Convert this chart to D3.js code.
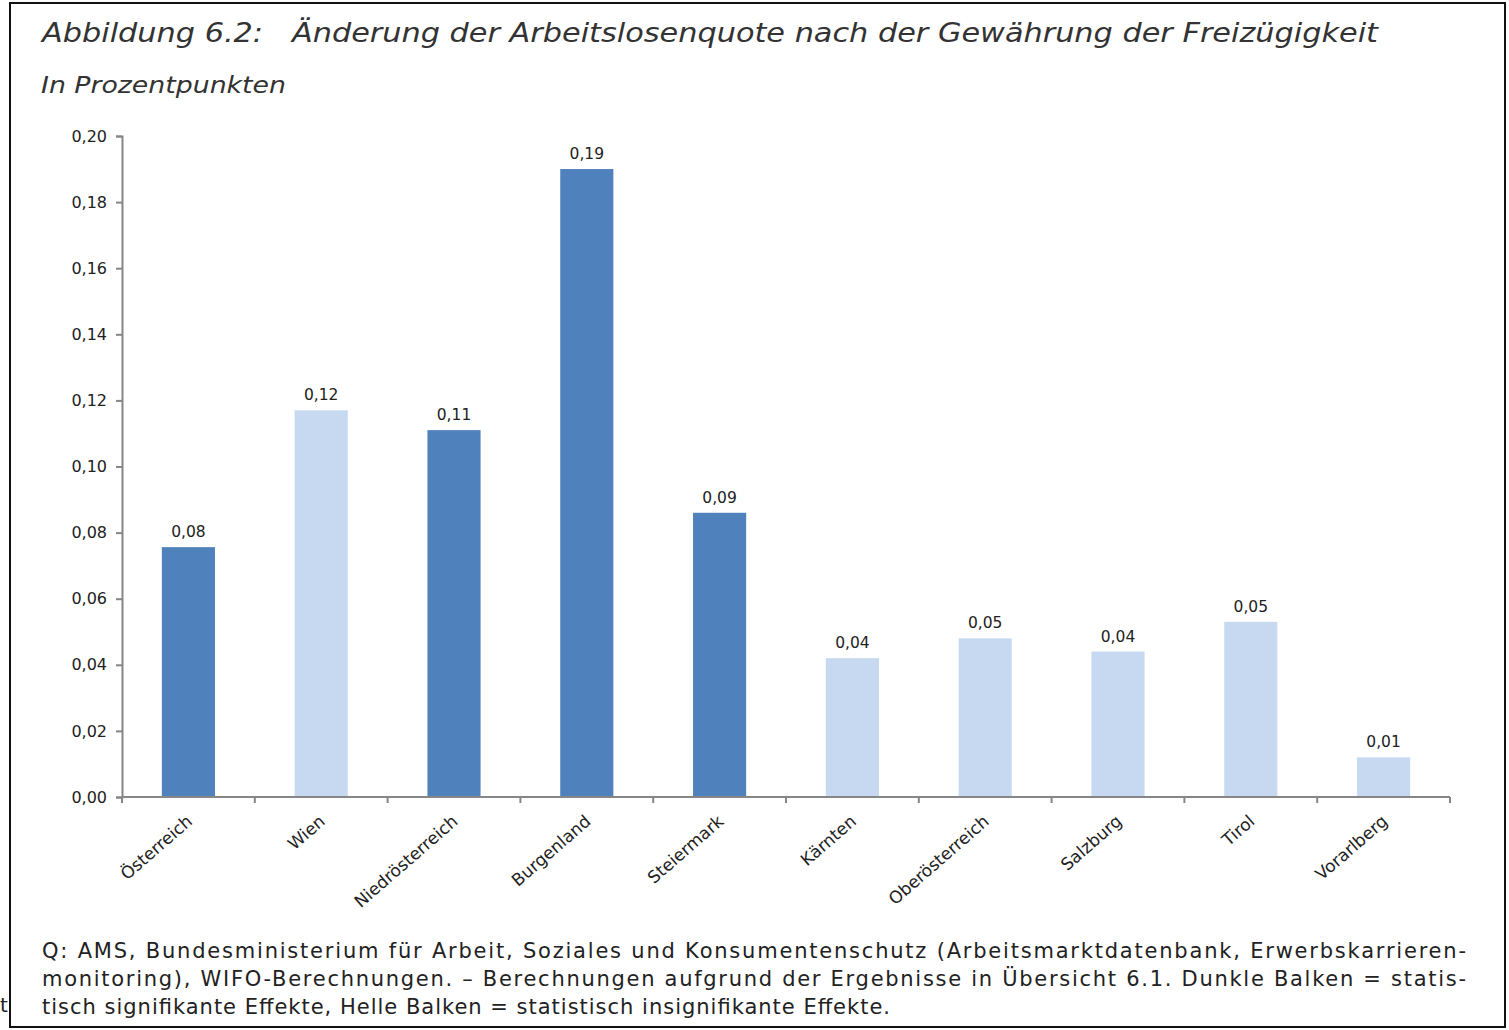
<!DOCTYPE html>
<html>
<head>
<meta charset="utf-8">
<script src="https://cdn.jsdelivr.net/npm/d3@7"></script>
<style>
  body { margin: 0; background: #fff; }
  svg { display: block; }
  text { white-space: pre; }
</style>
</head>
<body>
<div id="chart"></div>
<script>
// Data
const regions = ["Österreich", "Wien", "Niedrösterreich", "Burgenland", "Steiermark",
    "Kärnten", "Oberösterreich", "Salzburg", "Tirol", "Vorarlberg"];
const values = [0.0756, 0.117, 0.111, 0.190, 0.086, 0.042, 0.048, 0.044, 0.053, 0.012];
const significant = [true, false, true, true, true, false, false, false, false, false];
const yTicks = [0, 0.02, 0.04, 0.06, 0.08, 0.10, 0.12, 0.14, 0.16, 0.18, 0.20];
const titleText = "Abbildung 6.2:   Änderung der Arbeitslosenquote nach der Gewährung der Freizügigkeit";
const subtitleText = "In Prozentpunkten";
const footerLines = [
    "Q: AMS, Bundesministerium für Arbeit, Soziales und Konsumentenschutz (Arbeitsmarktdatenbank, Erwerbskarrieren-",
    "monitoring), WIFO-Berechnungen. – Berechnungen aufgrund der Ergebnisse in Übersicht 6.1. Dunkle Balken = statis-",
    "tisch signifikante Effekte, Helle Balken = statistisch insignifikante Effekte."
];

const font = "'DejaVu Sans', sans-serif";
const commaFormat = v => d3.format(".2f")(v).replace(".", ",");

const svg = d3.select("#chart")
    .append("svg")
        .attr("width", 1509)
        .attr("height", 1030)
        .style("font-family", font);

// stray fragment left of the frame
svg.append("text")
    .attr("x", 0)
    .attr("y", 1012)
    .attr("font-size", 20)
    .attr("fill", "#222")
    .text("t");

// frame
svg.append("rect")
    .attr("x", 10)
    .attr("y", 3)
    .attr("width", 1495)
    .attr("height", 1024)
    .attr("fill", "#fff")
    .attr("stroke", "#111")
    .attr("stroke-width", 2);

svg.append("text")
    .attr("x", 42)
    .attr("y", 42)
    .attr("font-size", 26)
    .attr("font-style", "italic")
    .attr("fill", "#333")
    .attr("textLength", 1336)
    .attr("lengthAdjust", "spacingAndGlyphs")
    .text(titleText);

svg.append("text")
    .attr("x", 41)
    .attr("y", 93)
    .attr("font-size", 23)
    .attr("font-style", "italic")
    .attr("fill", "#333")
    .attr("textLength", 245)
    .attr("lengthAdjust", "spacingAndGlyphs")
    .text(subtitleText);

// plot area
const plotLeft = 122, plotRight = 1450, plotTop = 136, plotBottom = 797;

const x = d3.scaleBand()
    .domain(regions)
    .range([plotLeft, plotRight])
    .paddingInner(0.6)
    .paddingOuter(0.3);

const xTicks = d3.scaleBand()
    .domain(regions)
    .range([plotLeft, plotRight]);

const y = d3.scaleLinear()
    .domain([0, 0.2])
    .range([plotBottom, plotTop]);

// bars
svg.append("g")
    .selectAll("rect")
    .data(regions)
    .enter()
    .append("rect")
        .attr("x", d => x(d))
        .attr("y", (d, i) => y(values[i]))
        .attr("width", x.bandwidth())
        .attr("height", (d, i) => y(0) - y(values[i]))
        .attr("fill", (d, i) => significant[i] ? "#4F81BD" : "#C6D9F1");

// value labels
svg.append("g")
    .selectAll("text")
    .data(regions)
    .enter()
    .append("text")
        .attr("x", d => x(d) + x.bandwidth() / 2)
        .attr("y", (d, i) => y(values[i]) - 10)
        .attr("text-anchor", "middle")
        .attr("font-size", 15.5)
        .attr("fill", "#222")
        .text((d, i) => commaFormat(values[i]));

// y axis
const yAxis = svg.append("g")
    .attr("transform", `translate(${plotLeft},0)`)
    .call(d3.axisLeft(y).tickValues(yTicks).tickSize(6).tickFormat(commaFormat));
yAxis.select(".domain").attr("stroke", "#868686").attr("stroke-width", 2);
yAxis.selectAll(".tick line").attr("stroke", "#868686").attr("stroke-width", 2);
yAxis.selectAll(".tick text")
    .attr("x", -15)
    .attr("font-size", 16)
    .attr("font-family", font)
    .attr("fill", "#222");

// x axis line and category ticks
svg.append("line")
    .attr("x1", plotLeft)
    .attr("x2", plotRight)
    .attr("y1", plotBottom)
    .attr("y2", plotBottom)
    .attr("stroke", "#868686")
    .attr("stroke-width", 2);

svg.append("g")
    .selectAll("line")
    .data(regions.concat(["end"]))
    .enter()
    .append("line")
        .attr("x1", (d, i) => i < regions.length ? xTicks(d) : plotRight)
        .attr("x2", (d, i) => i < regions.length ? xTicks(d) : plotRight)
        .attr("y1", plotBottom)
        .attr("y2", plotBottom + 6)
        .attr("stroke", "#868686")
        .attr("stroke-width", 2);

// rotated category labels
svg.append("g")
    .selectAll("text")
    .data(regions)
    .enter()
    .append("text")
        .attr("transform", d => `translate(${xTicks(d) + xTicks.bandwidth() / 2 + 5},${plotBottom + 26}) rotate(-41)`)
        .attr("text-anchor", "end")
        .attr("font-size", 17)
        .attr("fill", "#222")
        .text(d => d);

// footnote, justified to the same width
svg.append("g")
    .selectAll("text")
    .data(footerLines)
    .enter()
    .append("text")
        .attr("x", 42)
        .attr("y", (d, i) => 958 + i * 28)
        .attr("font-size", 21)
        .attr("fill", "#222")
        .attr("textLength", (d, i) => i < 2 ? 1424 : 848)
        .attr("lengthAdjust", "spacing")
        .text(d => d);
</script>
</body>
</html>
